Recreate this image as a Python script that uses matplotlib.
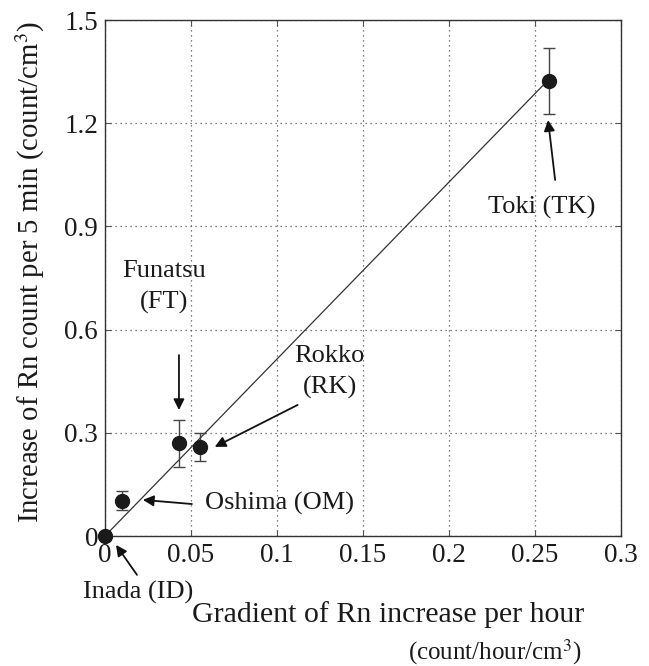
import matplotlib
matplotlib.use("Agg")
import matplotlib.pyplot as plt
import numpy as np

plt.rcParams['font.family'] = ['Liberation Serif', 'DejaVu Serif']
plt.rcParams['mathtext.fontset'] = 'stix'

sites = ["Inada (ID)", "Oshima (OM)", "Funatsu\n(FT)", "Rokko\n(RK)", "Toki (TK)"]
gradient = np.array([0.0, 0.010, 0.043, 0.0555, 0.258])
increase = np.array([0.0, 0.103, 0.270, 0.258, 1.323])
errors = np.array([0.0, 0.027, 0.068, 0.040, 0.096])
xticks = [0, 0.05, 0.1, 0.15, 0.2, 0.25, 0.3]
xticklabels = ["0", "0.05", "0.1", "0.15", "0.2", "0.25", "0.3"]
yticks = [0, 0.3, 0.6, 0.9, 1.2, 1.5]
yticklabels = ["0", "0.3", "0.6", "0.9", "1.2", "1.5"]

# label positions (text centre) and arrow start/end, in data coords
label_pos = [(0.0192, -0.163), (0.058, 0.096), (0.0342, 0.724), (0.1306, 0.478), (0.2536, 0.955)]
label_ha = ["center", "left", "center", "center", "center"]
arrow_from = [(0.0186, -0.113), (0.0505, 0.093), (0.043, 0.526), (0.112, 0.381), (0.2617, 1.035)]
arrow_to = [(0.0064, -0.026), (0.022, 0.105), (0.043, 0.366), (0.0638, 0.259), (0.2576, 1.209)]

W, H = 649, 666
fig = plt.figure(figsize=(W/100, H/100), dpi=100)
ax = fig.add_axes([105/W, 1-536/H, (621-105)/W, (536-20)/H])

# fit line through origin
slope = np.sum(gradient*increase)/np.sum(gradient**2)
xl = np.array([0, gradient.max()])
ax.plot(xl, slope*xl, color='#333333', lw=0.9, zorder=2)

ax.errorbar(gradient, increase, yerr=errors, fmt='o', color='#1a1a1a', ms=10,
            ecolor='#444444', elinewidth=1.0, capsize=4, capthick=1.0, zorder=3, clip_on=False)

ax.set_xlim(0, 0.3)
ax.set_ylim(0, 1.5)
ax.set_xticks(xticks)
ax.set_xticklabels(xticklabels)
ax.set_yticks(yticks)
ax.set_yticklabels(yticklabels)
ax.tick_params(direction='in', length=4, labelsize=19.5, pad=5, top=True, right=True,
               color='#555555', labelcolor='#1a1a1a')
ax.grid(True, linestyle=(0, (1, 3)), color='#555555', lw=0.9)
for s in ax.spines.values():
    s.set_linewidth(1.0)
    s.set_color('#333333')

for name, lp, ha, af, at in zip(sites, label_pos, label_ha, arrow_from, arrow_to):
    ax.text(lp[0], lp[1], name, ha=ha, va='center', fontsize=19, linespacing=1.5,
            color='#1a1a1a', clip_on=False)
    ax.annotate('', xy=at, xytext=af, annotation_clip=False,
                arrowprops=dict(arrowstyle='-|>', color='#111111', lw=1.3,
                                mutation_scale=16, shrinkA=0, shrinkB=0))

fig.text(388/W, 1-615/H, "Gradient of Rn increase per hour", ha='center', va='center',
         fontsize=21.5, color='#1a1a1a')
fig.text(495/W, 1-652/H, "(count/hour/cm$^3$)", ha='center', va='center',
         fontsize=18, color='#1a1a1a')
fig.text(30/W, 1-272/H, "Increase of Rn count per 5 min (count/cm$^3$)", ha='center', va='center',
         rotation=90, fontsize=20.7, color='#1a1a1a')

fig.savefig("out.png", dpi=100)
